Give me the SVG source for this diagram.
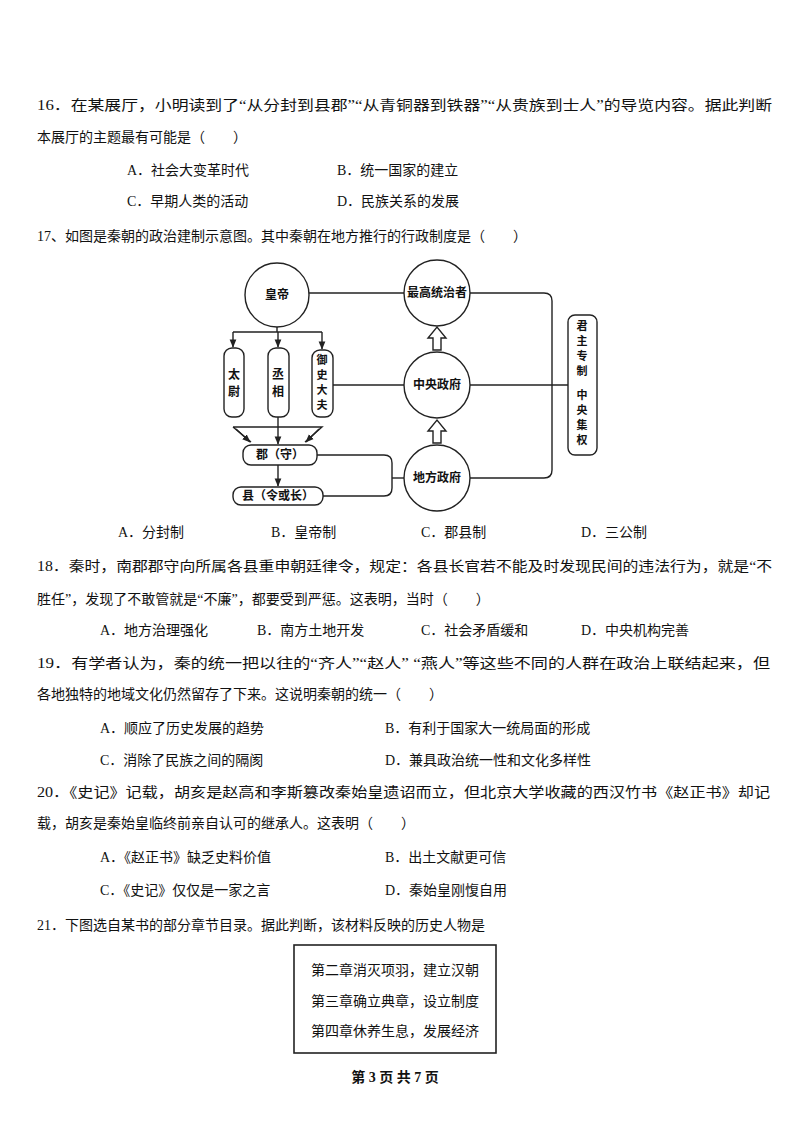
<svg xmlns="http://www.w3.org/2000/svg" width="794" height="1124" viewBox="0 0 794 1124">
<style>
text{font-family:"Liberation Serif","Noto Sans CJK SC",serif;font-size:14px;fill:#111}
.d{font-family:"Noto Sans CJK SC",sans-serif;font-weight:bold;font-size:12px}
.v{font-family:"Noto Sans CJK SC",sans-serif;font-weight:bold;font-size:11px}
.s{fill:none;stroke:#222;stroke-width:1.4}
.n{fill:#fff;stroke:#222;stroke-width:1.4}
</style>
<defs>
<marker id="a" viewBox="0 0 10 10" refX="9" refY="5" markerWidth="6" markerHeight="6" orient="auto"><path d="M0,1 L10,5 L0,9 z" fill="#222"/></marker>
</defs>
<rect width="794" height="1124" fill="#fff"/>
<g id="q16">
<text x="37" y="110" textLength="735" lengthAdjust="spacingAndGlyphs">16．在某展厅，小明读到了“从分封到县郡”“从青铜器到铁器”“从贵族到士人”的导览内容。据此判断</text>
<text x="37" y="142">本展厅的主题最有可能是（　　）</text>
<text x="127" y="175">A．社会大变革时代</text><text x="337" y="175">B．统一国家的建立</text>
<text x="127" y="206">C．早期人类的活动</text><text x="337" y="206">D．民族关系的发展</text>
<text x="37" y="241">17、如图是秦朝的政治建制示意图。其中秦朝在地方推行的行政制度是（　　）</text>
</g>
<g id="connectors">
<path class="s" d="M309,293 H404"/>
<path class="s" d="M470,293 H544 Q552,293 552,301 V470 Q552,478 544,478 H470"/>
<path class="s" d="M470,385 H568"/>
<path class="s" d="M333,385 H404"/>
<path class="s" d="M317,455 H384 Q392,455 392,463 V488 Q392,496 384,496 H323"/>
<path class="s" d="M392,478 H404"/>
<path class="s" d="M277,327 V332 M233,332 H322"/>
<path class="s" d="M233,332 V347" marker-end="url(#a)"/>
<path class="s" d="M278,332 V347" marker-end="url(#a)"/>
<path class="s" d="M322,332 V349" marker-end="url(#a)"/>
<path class="s" d="M233,427 H322 L305,442 M233,427 L251,442"/>
<path class="s" d="M236,429 L250,442" marker-end="url(#a)"/>
<path class="s" d="M319,429 L306,442" marker-end="url(#a)"/>
<path class="s" d="M278,417 V444" marker-end="url(#a)"/>
<path class="s" d="M278,465 V486" marker-end="url(#a)"/>
<path class="n" d="M433,350 V338 H428 L437,327 L446,338 H441 V350 Z"/>
<path class="n" d="M433,443 V431 H428 L437,420 L446,431 H441 V443 Z"/>
</g>
<g id="huangdi"><circle class="n" cx="277" cy="295" r="32"/><text class="d" x="277" y="299" text-anchor="middle">皇帝</text></g>
<g id="zuigao"><circle class="n" cx="437" cy="293" r="33"/><text class="d" x="437" y="297" text-anchor="middle" font-size="11">最高统治者</text></g>
<g id="zhongyang"><circle class="n" cx="437" cy="385" r="33"/><text class="d" x="437" y="389" text-anchor="middle">中央政府</text></g>
<g id="difang"><circle class="n" cx="437" cy="478" r="33"/><text class="d" x="437" y="482" text-anchor="middle">地方政府</text></g>
<g id="taiwei"><rect class="n" x="224" y="348" width="20" height="69" rx="8"/><text class="d" x="234" y="379" text-anchor="middle">太</text><text class="d" x="234" y="396" text-anchor="middle">尉</text></g>
<g id="chengxiang"><rect class="n" x="268" y="348" width="21" height="69" rx="8"/><text class="d" x="278" y="379" text-anchor="middle">丞</text><text class="d" x="278" y="396" text-anchor="middle">相</text></g>
<g id="yushi"><rect class="n" x="312" y="350" width="21" height="67" rx="8"/><text class="v" x="322" y="364" text-anchor="middle">御</text><text class="v" x="322" y="379" text-anchor="middle">史</text><text class="v" x="322" y="394" text-anchor="middle">大</text><text class="v" x="322" y="409" text-anchor="middle">夫</text></g>
<g id="jun"><rect class="n" x="243" y="445" width="74" height="20" rx="8"/><text class="d" x="280" y="459" text-anchor="middle">郡（守）</text></g>
<g id="xian"><rect class="n" x="233" y="487" width="90" height="18" rx="8"/><text class="d" x="278" y="500" text-anchor="middle">县（令或长）</text></g>
<g id="right"><rect class="n" x="568" y="315" width="29" height="140" rx="7"/>
<text class="v" x="582" y="330" text-anchor="middle">君</text><text class="v" x="582" y="345" text-anchor="middle">主</text><text class="v" x="582" y="360" text-anchor="middle">专</text><text class="v" x="582" y="375" text-anchor="middle">制</text>
<text class="v" x="582" y="399" text-anchor="middle">中</text><text class="v" x="582" y="414" text-anchor="middle">央</text><text class="v" x="582" y="429" text-anchor="middle">集</text><text class="v" x="582" y="444" text-anchor="middle">权</text></g>
<g id="rest">
<text x="118" y="537">A．分封制</text><text x="271" y="537">B．皇帝制</text><text x="421" y="537">C．郡县制</text><text x="581" y="537">D．三公制</text>
<text x="37" y="571" textLength="735" lengthAdjust="spacingAndGlyphs">18．秦时，南郡郡守向所属各县重申朝廷律令，规定：各县长官若不能及时发现民间的违法行为，就是“不</text>
<text x="37" y="604">胜任”，发现了不敢管就是“不廉”，都要受到严惩。这表明，当时（　　）</text>
<text x="100" y="635">A．地方治理强化</text><text x="257" y="635">B．南方土地开发</text><text x="421" y="635">C．社会矛盾缓和</text><text x="581" y="635">D．中央机构完善</text>
<text x="37" y="668" textLength="733" lengthAdjust="spacingAndGlyphs">19．有学者认为，秦的统一把以往的“齐人”“赵人” “燕人”等这些不同的人群在政治上联结起来，但</text>
<text x="37" y="699">各地独特的地域文化仍然留存了下来。这说明秦朝的统一（　　）</text>
<text x="100" y="733">A．顺应了历史发展的趋势</text><text x="385" y="733">B．有利于国家大一统局面的形成</text>
<text x="100" y="765">C．消除了民族之间的隔阂</text><text x="385" y="765">D．兼具政治统一性和文化多样性</text>
<text x="37" y="797" textLength="733" lengthAdjust="spacingAndGlyphs">20．《史记》记载，胡亥是赵高和李斯篡改秦始皇遗诏而立，但北京大学收藏的西汉竹书《赵正书》却记</text>
<text x="37" y="828">载，胡亥是秦始皇临终前亲自认可的继承人。这表明（　　）</text>
<text x="100" y="862">A．《赵正书》缺乏史料价值</text><text x="385" y="862">B．出土文献更可信</text>
<text x="100" y="895">C．《史记》仅仅是一家之言</text><text x="385" y="895">D．秦始皇刚愎自用</text>
<text x="37" y="930">21．下图选自某书的部分章节目录。据此判断，该材料反映的历史人物是</text>
</g>
<g id="box"><rect x="294" y="945" width="202" height="108" fill="none" stroke="#222" stroke-width="1.6"/>
<text x="395" y="975" text-anchor="middle" font-size="15">第二章消灭项羽，建立汉朝</text>
<text x="395" y="1006" text-anchor="middle" font-size="15">第三章确立典章，设立制度</text>
<text x="395" y="1036" text-anchor="middle" font-size="15">第四章休养生息，发展经济</text></g>
<text x="395" y="1082" text-anchor="middle" font-size="13" font-weight="bold">第 3 页 共 7 页</text>
</svg>
